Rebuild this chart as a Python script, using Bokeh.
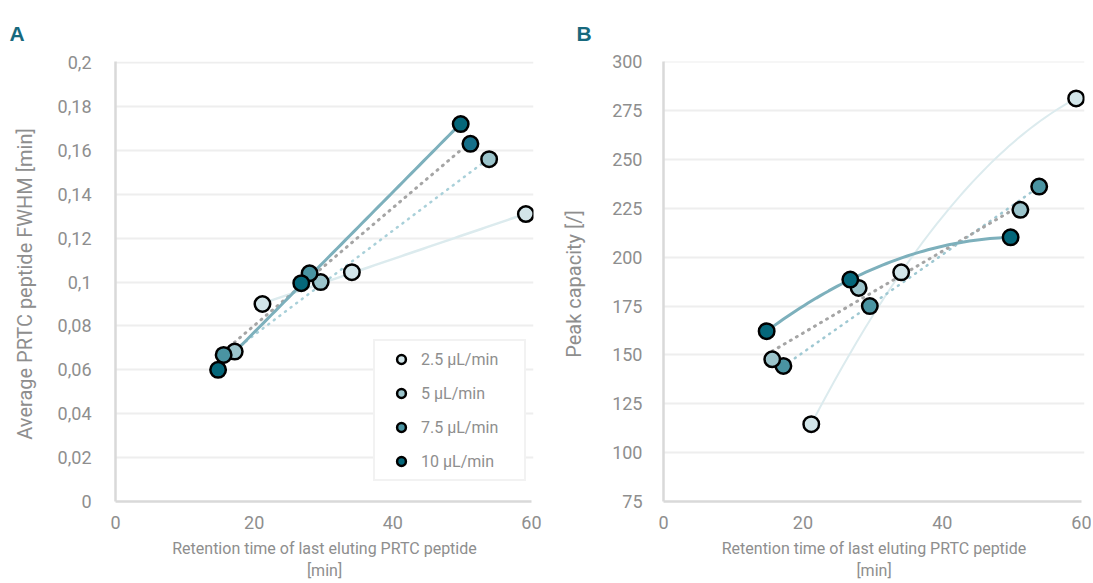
import numpy as np
from bokeh.plotting import figure
from bokeh.layouts import row
from bokeh.models import ColumnDataSource, FixedTicker, Legend, LegendItem, Title, Range1d
from bokeh.embed import file_html
from bokeh.resources import INLINE

# ---------------- data ----------------
series_names = ["2.5 µL/min", "5 µL/min", "7.5 µL/min", "10 µL/min"]

rt_2_5 = [21.2, 34.1, 59.2]
rt_5 = [17.2, 29.6, 53.9]
rt_7_5 = [15.6, 28.0, 51.2]
rt_10 = [14.8, 26.8, 49.8]

fwhm_2_5 = [0.090, 0.1045, 0.131]
fwhm_5 = [0.0683, 0.100, 0.156]
fwhm_7_5 = [0.0668, 0.104, 0.163]
fwhm_10 = [0.060, 0.0995, 0.172]

pc_2_5 = [114.6, 192.3, 281.3]
pc_5 = [144.4, 175.0, 236.2]
pc_7_5 = [147.8, 184.3, 224.3]
pc_10 = [162.2, 188.6, 210.2]

x_ticks = [0, 20, 40, 60]
a_y_ticks = [0, 0.02, 0.04, 0.06, 0.08, 0.1, 0.12, 0.14, 0.16, 0.18, 0.2]
a_y_labels = ["0", "0,02", "0,04", "0,06", "0,08", "0,1", "0,12", "0,14", "0,16", "0,18", "0,2"]
b_y_ticks = [75, 100, 125, 150, 175, 200, 225, 250, 275, 300]

# ---------------- styles ----------------
FONT = "Roboto"
GRAY_TXT = "#8e8e8e"
C_25 = "#d2e5e9"
C_5 = "#9bc4cb"
C_75 = "#4a94a2"
C_10 = "#05677a"
TEAL_TITLE = "#17697d"


def style(p, yticks, ylabels=None):
    p.outline_line_color = None
    p.xgrid.visible = False
    p.ygrid.grid_line_color = "#eeeeee"
    p.ygrid.grid_line_width = 2
    p.ygrid.ticker = FixedTicker(ticks=yticks)
    for ax in (p.xaxis[0], p.yaxis[0]):
        ax.axis_line_color = "#d9d9d9"
        ax.axis_line_width = 2.5
        ax.major_tick_line_color = None
        ax.minor_tick_line_color = None
        ax.major_label_text_font = FONT
        ax.major_label_text_font_size = "18px"
        ax.major_label_text_color = GRAY_TXT
        ax.axis_label_text_font = FONT
        ax.axis_label_text_font_size = "16px"
        ax.axis_label_text_color = GRAY_TXT
        ax.axis_label_text_font_style = "normal"
    p.yaxis[0].axis_label_text_font_size = "20px"
    p.xaxis[0].ticker = FixedTicker(ticks=x_ticks)
    p.xaxis[0].bounds = (0, 60)
    p.xaxis[0].major_label_standoff = 8
    p.xaxis[0].axis_label_standoff = 7
    p.yaxis[0].ticker = FixedTicker(ticks=yticks)
    if ylabels is not None:
        p.yaxis[0].major_label_overrides = {t: l for t, l in zip(yticks, ylabels)}
    p.xaxis[0].axis_label = "Retention time of last eluting PRTC peptide\n[min]"


def trend(x, y, deg):
    c = np.polyfit(x, y, deg)
    xs = np.linspace(min(x), max(x), 60)
    return xs, np.polyval(c, xs)


def panel_label(p, txt, off):
    p.add_layout(Title(text=txt, align="left", offset=off, standoff=34,
                       text_font="Liberation Sans", text_font_style="bold",
                       text_font_size="21px", text_color=TEAL_TITLE), "above")


# ---------------- panel A ----------------
pA = figure(width=545, height=583, output_backend="svg", toolbar_location=None,
            x_range=Range1d(0, 60.3), y_range=Range1d(0, 0.2005),
            min_border_left=115, min_border_right=12, min_border_top=61, min_border_bottom=80)
style(pA, a_y_ticks, a_y_labels)
pA.yaxis[0].axis_label = "Average PRTC peptide  FWHM [min]"
pA.yaxis[0].major_label_standoff = 18
pA.yaxis[0].axis_label_standoff = 18

# trendlines (linear)
xs, ys = trend(rt_2_5, fwhm_2_5, 1)
pA.line(xs, ys, line_color="#dcebee", line_width=2.5)
xs, ys = trend(rt_5, fwhm_5, 1)
pA.line(xs, ys, line_color="#a9d0d9", line_width=2.5, line_dash="1 6", line_cap="round")
xs, ys = trend(rt_7_5, fwhm_7_5, 1)
pA.line(xs, ys, line_color="#a5a5a5", line_width=3, line_dash="1 6", line_cap="round")
xs, ys = trend(rt_10, fwhm_10, 1)
pA.line(xs, ys, line_color="#7db0bc", line_width=3)

a_series = [(rt_2_5, fwhm_2_5, [C_25] * 3), (rt_5, fwhm_5, [C_5] * 3),
            (rt_7_5, fwhm_7_5, [C_75, C_75, "#16708a"]), (rt_10, fwhm_10, [C_10] * 3)]
items = []
for name, (x, y, cols) in zip(series_names, a_series):
    src = ColumnDataSource(dict(x=x, y=y, c=cols))
    r = pA.scatter("x", "y", source=src, size=15.5, fill_color="c", line_color="black", line_width=2.5)
    items.append(LegendItem(label=name, renderers=[r], index=0))

leg = Legend(items=items, location=(258, 20), padding=7, spacing=12,
             glyph_height=22, glyph_width=38, label_height=22, label_width=96,
             label_standoff=1, border_line_color="#e6e6e6", border_line_width=2,
             label_text_font=FONT, label_text_font_size="16px", label_text_color=GRAY_TXT,
             background_fill_color="white")
pA.add_layout(leg, "center")
panel_label(pA, "A", -106)

# ---------------- panel B ----------------
pB = figure(width=546, height=583, output_backend="svg", toolbar_location=None,
            x_range=Range1d(0, 60.4), y_range=Range1d(75, 300.2),
            min_border_left=118, min_border_right=7, min_border_top=61, min_border_bottom=80)
style(pB, b_y_ticks)
pB.yaxis[0].axis_label = "Peak capacity  [/]"
pB.yaxis[0].major_label_standoff = 15
pB.yaxis[0].axis_label_standoff = 23

xs, ys = trend(rt_2_5, pc_2_5, 2)
pB.line(xs, ys, line_color="#dcebee", line_width=2)
xs, ys = trend(rt_5, pc_5, 1)
pB.line(xs, ys, line_color="#9fc8d2", line_width=2.5, line_dash="1 6", line_cap="round")
xs, ys = trend(rt_7_5, pc_7_5, 1)
pB.line(xs, ys, line_color="#a5a5a5", line_width=3, line_dash="1 6", line_cap="round")
xs, ys = trend(rt_10, pc_10, 2)
pB.line(xs, ys, line_color="#7db0bc", line_width=3)

b_series = [(rt_2_5, pc_2_5, C_25), (rt_5, pc_5, C_75), (rt_7_5, pc_7_5, C_5), (rt_10, pc_10, C_10)]
for x, y, col in b_series:
    pB.scatter(x, y, size=15.5, fill_color=col, line_color="black", line_width=2.5)
panel_label(pB, "B", -87)

layout = row(pA, pB)
open("out.html", "w").write(file_html(layout, INLINE))
